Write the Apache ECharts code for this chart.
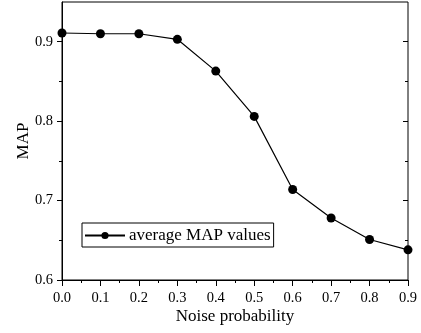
<!DOCTYPE html>
<html>
<head>
<meta charset="utf-8">
<script src="https://cdn.jsdelivr.net/npm/echarts@6/dist/echarts.min.js"></script>
<style>
  html, body { margin: 0; padding: 0; background: #fff; }
  #chart { width: 421px; height: 333px; }
</style>
</head>
<body>
<div id="chart"></div>
<script>
// noise probability vs average MAP
const noiseProb = [0.0, 0.1, 0.2, 0.3, 0.4, 0.5, 0.6, 0.7, 0.8, 0.9];
const mapValues = [0.911, 0.910, 0.910, 0.903, 0.863, 0.806, 0.714, 0.678, 0.651, 0.638];
const yMajorTicks = [0.6, 0.7, 0.8, 0.9];
const yMinorTicks = [0.65, 0.75, 0.85];

const FONT = 'Liberation Serif, Times New Roman, serif';
const chart = echarts.init(document.getElementById('chart'));

// one helper for the four overlaid y axes (left/right, major/minor ticks)
function yAxis(pos, ticks, len, inside, withLabels) {
  return {
    type: 'value',
    position: pos,
    min: 0.6,
    max: 0.95,
    name: withLabels ? 'MAP' : '',
    nameLocation: 'middle',
    nameGap: 30,
    nameMoveOverlap: false,
    nameTextStyle: { fontFamily: FONT, fontSize: 17, color: '#000' },
    axisLine: { show: withLabels, lineStyle: { color: '#000', width: 1 } },
    axisTick: {
      show: true, inside: inside, length: len,
      customValues: ticks,
      lineStyle: { color: '#000', width: 1 }
    },
    axisLabel: {
      show: withLabels,
      customValues: yMajorTicks,
      formatter: v => v.toFixed(1),
      fontFamily: FONT, fontSize: 14.5, color: '#000', margin: 9
    },
    splitLine: { show: false }
  };
}

chart.setOption({
  animation: false,
  grid: {
    left: 62, right: 13, top: 2, bottom: 53,
    show: true, borderColor: '#000', borderWidth: 1, backgroundColor: 'transparent'
  },
  legend: {
    left: 82, top: 223,
    padding: [4, 3, 3, 2],
    borderColor: '#000', borderWidth: 1,
    itemWidth: 40, itemHeight: 9, itemGap: 4,
    textStyle: { fontFamily: FONT, fontSize: 17, color: '#000', padding: [0, 0, 0, -1] },
    data: ['average MAP values']
  },
  xAxis: {
    type: 'value',
    min: 0, max: 0.9, interval: 0.1,
    name: 'Noise probability',
    nameLocation: 'middle',
    nameGap: 28,
    nameMoveOverlap: false,
    nameTextStyle: { fontFamily: FONT, fontSize: 17, color: '#000' },
    axisLine: { lineStyle: { color: '#000', width: 1 } },
    axisTick: { length: 6, lineStyle: { color: '#000', width: 1 } },
    minorTick: { show: true, splitNumber: 2, length: 3, lineStyle: { color: '#000', width: 1 } },
    axisLabel: {
      formatter: v => v.toFixed(1),
      fontFamily: FONT, fontSize: 14.5, color: '#000', margin: 11
    },
    splitLine: { show: false }
  },
  yAxis: [
    yAxis('left', yMajorTicks, 5, false, true),
    yAxis('left', yMinorTicks, 3, false, false),
    yAxis('right', yMajorTicks, 5, true, false),
    yAxis('right', yMinorTicks, 3, true, false)
  ],
  series: [{
    name: 'average MAP values',
    type: 'line',
    yAxisIndex: 0,
    data: noiseProb.map((x, i) => [x, mapValues[i]]),
    symbol: 'circle',
    symbolSize: 9,
    lineStyle: { color: '#000', width: 1.2 },
    itemStyle: { color: '#000' }
  }]
});
</script>
</body>
</html>
